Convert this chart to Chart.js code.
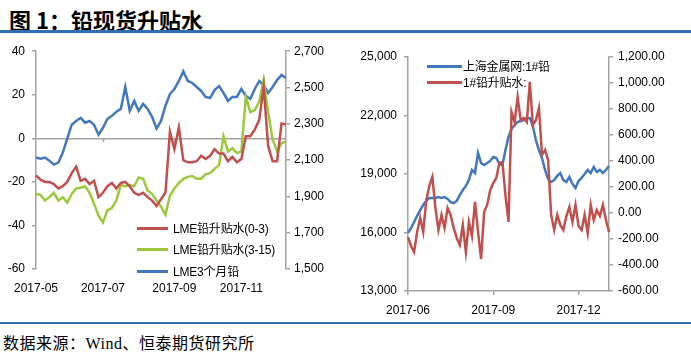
<!DOCTYPE html>
<html>
<head>
<meta charset="utf-8">
<script src="https://cdn.jsdelivr.net/npm/chart.js@4.4.1/dist/chart.umd.min.js"></script>
<style>
  body { margin: 0; background: #fff; }
  #wrap { position: relative; width: 691px; height: 354px; overflow: hidden; font-family: "Liberation Sans", "Noto Sans CJK SC", sans-serif; }
  #title { position: absolute; left: 9px; top: 3px; font: bold 22px "Noto Sans CJK SC", sans-serif; color: #000; white-space: nowrap; }
  .rule { position: absolute; left: 0; width: 691px; background: #2f6fb5; }
  #source { position: absolute; left: 3px; top: 330px; font: 16px "Liberation Serif", "Noto Sans CJK SC", serif; letter-spacing: 0.5px; color: #000; white-space: nowrap; }
  canvas { position: absolute; }
  .lg { position: absolute; font-size: 12px; letter-spacing: -0.2px; color: #000; white-space: nowrap; line-height: 16px; }
  .lg i { display: inline-block; vertical-align: middle; height: 3px; margin-right: 5px; position: relative; top: -1px; }
</style>
</head>
<body>
<div id="wrap">
  <div id="title">图 1：铅现货升贴水</div>
  <div class="rule" style="top:30px;height:3px"></div>
  <canvas id="lme" width="345" height="270" style="left:0;top:37px"></canvas>
  <canvas id="sh" width="346" height="280" style="left:345px;top:40px"></canvas>
  <div style="position:absolute;left:132px;top:219px;width:140px;height:64px;background:#fff"></div>
  <div class="lg" style="left:137px;top:221px"><i style="width:31px;background:#c0504d"></i>LME铅升贴水(0-3)</div>
  <div class="lg" style="left:137px;top:242px"><i style="width:31px;background:#9bc83d"></i>LME铅升贴水(3-15)</div>
  <div class="lg" style="left:137px;top:264px"><i style="width:31px;background:#4178be"></i>LME3个月铅</div>
  <div class="lg" style="left:427px;top:59px"><i style="width:35px;background:#4178be;margin-right:1px"></i>上海金属网:1#铅</div>
  <div class="lg" style="left:427px;top:75px"><i style="width:35px;background:#c0504d;margin-right:1px"></i>1#铅升贴水:</div>
  <div class="rule" style="top:322px;height:2px"></div>
  <div id="source">数据来源：Wind、恒泰期货研究所</div>
</div>
<script>
// ---- left chart: LME
const lmeTickIdx = [0, 15, 31, 46];
const lmeTickText = ['2017-05', '2017-07', '2017-09', '2017-11'];
const lmeSpread03 = [-17, -19, -20, -20, -21, -23, -22, -20, -16, -13, -19.5, -18.6, -21, -19.5, -27, -25,
  -22, -20.5, -23, -20.5, -20, -22, -25, -26, -25, -27, -28.6, -31, -28, -25, 3, -5, 5, -10, -11, -11,
  -10.5, -8, -9.5, -8, -5, -7, -7, -10.5, -8.5, -11, -9.5, 1, 1, 4, 8.5, 23.6, -3.6, -10.5, -10.5, 6.8, 6.4];
const lmeSpread315 = [-25.5, -26, -28.6, -27, -25, -28.6, -27, -29.5, -25.5, -23, -22.7, -22, -25, -30, -35.5, -38.6,
  -33, -32, -28.6, -21.4, -22, -21.4, -22, -18, -18.6, -24, -25.5, -28.6, -31.4, -35, -26.4, -23, -20.5, -18.6,
  -17.7, -17.3, -18.6, -18.6, -16.4, -16, -14, -12.3, 1, -6, -4.5, -6.8, -6, 19, 12, 13, 16.8, 26.8, 12, -0.5, -6, -2.3, -1.4];
const lme3m = [2114, 2108, 2114, 2097, 2075, 2086, 2141, 2218, 2295, 2316, 2333, 2306, 2316, 2295, 2240, 2278,
  2327, 2344, 2366, 2382, 2503, 2371, 2426, 2371, 2410, 2382, 2338, 2273, 2316, 2399, 2464, 2492, 2536, 2590,
  2536, 2525, 2503, 2481, 2448, 2442, 2486, 2508, 2470, 2426, 2448, 2448, 2492, 2454, 2437, 2492, 2536, 2514,
  2470, 2503, 2541, 2569, 2552];

// ---- right chart: SMM 1# lead
const shTickIdx = [0, 28, 56];
const shTickText = ['2017-06', '2017-09', '2017-12'];
const shPrice = [15980, 16230, 16540, 16850, 17150, 17410, 17620, 17770, 17770, 17770, 17820, 17770, 17820, 17720,
  17560, 17510, 17620, 17920, 18180, 18390, 18690, 19210, 19050, 20080, 19560, 19460, 19560, 19670, 19870, 19820,
  19510, 19460, 20230, 20900, 21310, 21510, 21670, 21720, 21770, 21870, 21870, 21460, 20740, 20230, 19820, 19210,
  18740, 18590, 18690, 18900, 19050, 18690, 18590, 18850, 18490, 18280, 18640, 18800, 19000, 19210, 19050, 19360,
  19100, 19210, 19050, 19210, 19410];
const shPremium = [-185, -254, -300, -146, -38, -146, 100, 208, 277, 39, -131, -15, -115, 39, -15, -115, -192, -246,
  -92, -300, -69, -177, 85, -146, -354, 8, 62, 177, 231, 269, 385, 392, 138, -69, 777, 700, 892, 715, 731, 700,
  1008, 677, 715, 808, 446, 485, 408, -15, -131, -15, -92, -131, -23, 46, -69, 62, -100, -131, -15, -154, 62, -54,
  23, -23, 62, -54, -146];

function makeDates(start, n, step) {
  const out = [];
  const t0 = Date.parse(start + 'T00:00:00Z');
  for (let i = 0; i < n; i++) {
    out.push(new Date(t0 + Math.round(i * step) * 86400000).toISOString().slice(0, 10));
  }
  return out;
}
const lmeDates = makeDates('2017-05-01', lmeSpread03.length, 4);
const shDates = makeDates('2017-06-01', shPrice.length, 3.29);

const gray = '#a3a3a3';
Chart.defaults.color = '#000';
Chart.defaults.font = { family: 'Liberation Sans', size: 12 };

// little tick marks hanging under the zero line (the category axis crosses there)
const zeroTicks = {
  id: 'zeroTicks',
  beforeDatasetsDraw(chart) {
    const { ctx, scales: { x, y } } = chart;
    const y0 = y.getPixelForValue(0);
    ctx.save();
    ctx.strokeStyle = gray;
    ctx.lineWidth = 1.5;
    lmeTickIdx.slice(1).forEach(i => {
      const px = Math.round(x.getPixelForValue(i)) + 0.5;
      ctx.beginPath();
      ctx.moveTo(px, y0);
      ctx.lineTo(px, y0 + 4);
      ctx.stroke();
    });
    ctx.restore();
  }
};

new Chart(document.getElementById('lme'), {
  type: 'line',
  data: {
    labels: lmeDates,
    datasets: [
      { label: 'LME铅升贴水(0-3)', data: lmeSpread03, borderColor: '#c0504d', yAxisID: 'y' },
      { label: 'LME铅升贴水(3-15)', data: lmeSpread315, borderColor: '#9bc83d', yAxisID: 'y' },
      { label: 'LME3个月铅', data: lme3m, borderColor: '#4178be', yAxisID: 'y1', order: 1 }
    ]
  },
  options: {
    responsive: false,
    animation: false,
    layout: { padding: { top: 10 } },
    elements: { point: { radius: 0 }, line: { borderWidth: 2.5, tension: 0 } },
    plugins: { legend: { display: false }, tooltip: { enabled: false } },
    scales: {
      x: {
        grid: { display: false },
        border: { display: false },
        afterBuildTicks: s => { s.ticks = s.ticks.filter(t => lmeTickIdx.includes(t.value)); },
        afterFit: s => { s.height = 38; },
        ticks: {
          autoSkip: false, maxRotation: 0, padding: 4,
          callback: v => lmeTickText[lmeTickIdx.indexOf(v)]
        }
      },
      y: {
        min: -60, max: 40,
        afterFit: s => { s.width = 36; },
        ticks: { stepSize: 20, padding: 7 },
        grid: { color: c => c.tick && c.tick.value === 0 ? gray : 'rgba(0,0,0,0)', tickColor: gray, tickLength: 4, lineWidth: 1.5 },
        border: { color: gray, width: 1.5 }
      },
      y1: {
        position: 'right',
        min: 1500, max: 2700,
        afterFit: s => { s.width = 59; },
        ticks: { stepSize: 200, padding: 4, callback: v => v.toLocaleString('en-US') },
        grid: { drawOnChartArea: false, color: gray, tickLength: 4, lineWidth: 1.5 },
        border: { color: gray, width: 1.5 }
      }
    }
  },
  plugins: [zeroTicks]
});

new Chart(document.getElementById('sh'), {
  type: 'line',
  data: {
    labels: shDates,
    datasets: [
      { label: '上海金属网:1#铅', data: shPrice, borderColor: '#4178be', yAxisID: 'y', order: 1 },
      { label: '1#铅升贴水:', data: shPremium, borderColor: '#c0504d', yAxisID: 'y1', order: 0 }
    ]
  },
  options: {
    responsive: false,
    animation: false,
    layout: { padding: { top: 17 } },
    elements: { point: { radius: 0 }, line: { borderWidth: 2.5, tension: 0 } },
    plugins: { legend: { display: false }, tooltip: { enabled: false } },
    scales: {
      x: {
        grid: { drawOnChartArea: false, color: gray, tickLength: 4, lineWidth: 1.5 },
        border: { color: gray, width: 1.5 },
        afterBuildTicks: s => { s.ticks = s.ticks.filter(t => shTickIdx.includes(t.value)); },
        afterFit: s => { s.height = 29; },
        ticks: {
          autoSkip: false, maxRotation: 0, padding: 8,
          callback: v => shTickText[shTickIdx.indexOf(v)]
        }
      },
      y: {
        min: 13000, max: 25000,
        afterFit: s => { s.width = 63; },
        ticks: { stepSize: 3000, padding: 7, callback: v => v.toLocaleString('en-US') },
        grid: { drawOnChartArea: false, color: gray, tickLength: 4, lineWidth: 1.5 },
        border: { color: gray, width: 1.5 }
      },
      y1: {
        position: 'right',
        min: -600, max: 1200,
        afterFit: s => { s.width = 82; },
        ticks: { stepSize: 200, padding: 5, callback: v => v.toLocaleString('en-US', { minimumFractionDigits: 2, maximumFractionDigits: 2 }) },
        grid: { drawOnChartArea: false, color: gray, tickLength: 4, lineWidth: 1.5 },
        border: { color: gray, width: 1.5 }
      }
    }
  }
});
</script>
</body>
</html>
